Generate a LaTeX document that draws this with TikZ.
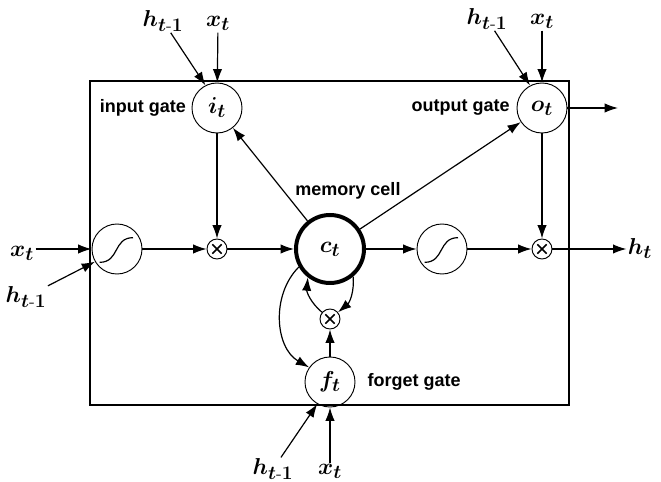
\documentclass[tikz,border=0pt]{standalone}
\usepackage{amsmath}
\usepackage{fontspec}
\setsansfont{Liberation Sans}
\usepackage{tikz}
\usetikzlibrary{positioning}
\usetikzlibrary{arrows.meta}

\begin{document}
\begin{tikzpicture}
  [
    x=0.75pt, y=0.75pt,
    >={Latex[length=10pt,width=7pt]},
    sym/.style={font=\fontsize{19}{22}\selectfont\boldmath, inner sep=1pt},
    gate/.style={sym, circle, draw=black, line width=0.7pt, minimum size=37.5pt, inner sep=0pt},
    cell/.style={sym, circle, draw=black, line width=3pt, minimum size=51pt, inner sep=0pt},
    sig/.style={circle, draw=black, line width=0.7pt, minimum size=37.5pt,
      path picture={\draw[line width=0.9pt, shift={(path picture bounding box.center)}]
        (-13pt,-10pt) .. controls (2pt,-10pt) and (-3pt,8.5pt) .. (12pt,8.5pt);}},
    mul/.style={circle, draw=black, line width=0.7pt, minimum size=15pt,
      path picture={\draw[line width=1.1pt, shift={(path picture bounding box.center)}]
        (-3.5pt,-3.5pt) -- (3.5pt,3.5pt) (-3.5pt,3.5pt) -- (3.5pt,-3.5pt);}},
    gatename/.style={font=\sffamily\bfseries\fontsize{13.5}{16}\selectfont, inner sep=0pt},
    ld/.style={line width=0.9pt,->}
  ]
  \useasboundingbox (0,0) rectangle (661,482);
  \draw [line width=1.2pt] (90,77) rectangle (569,401);

  \node (sA) at (117,233) [sig]  {};
  \node (mA) at (217,233) [mul]  {};
  \node (ct) at (330,233) [cell] {$c_t$};
  \node (sB) at (442,233) [sig]  {};
  \node (mB) at (542,233) [mul]  {};
  \node (it) at (217,374) [gate] {$i_t$};
  \node (ot) at (542,374) [gate] {$o_t$};
  \node (mC) at (330,163) [mul]  {};
  \node (ft) at (330,100) [gate] {$f_t$};

  \node (inName)  [left=4pt of it]  [gatename] {input gate};
  \node (outName) [left=5pt of ot]  [gatename] {output gate};
  \node (fgName)  [right=9pt of ft] [gatename] {forget gate};
  \node (memName) [above=10pt of ct, xshift=13.5pt] [gatename] {memory cell};

  \node (hI) at (163,455) [sym, anchor=base] {$h_{t\text{-}1}$};
  \node (xI) at (218,455) [sym, anchor=base] {$x_t$};
  \node (hO) at (487,457) [sym, anchor=base] {$h_{t\text{-}1}$};
  \node (xO) at (542,457) [sym, anchor=base] {$x_t$};
  \node (xL) at (22,225)  [sym, anchor=base] {$x_t$};
  \node (hL) at (26,179)  [sym, anchor=base] {$h_{t\text{-}1}$};
  \node (hF) at (273,7)   [sym, anchor=base] {$h_{t\text{-}1}$};
  \node (xF) at (330,7)   [sym, anchor=base] {$x_t$};
  \node (hT) at (640,227) [sym, anchor=base] {$h_t$};
  \coordinate (oOut) at (618,374);

  \draw [ld] (hI) -- (it.117);
  \draw [ld] (xI) -- (it);
  \draw [ld] (hO) -- (ot.118);
  \draw [ld] (xO) -- (ot);
  \draw [ld] (xL.east |- sA.west) -- (sA.west);
  \draw [ld] (hL) -- (sA.-150);
  \draw [ld] (hF) -- (ft.-120);
  \draw [ld] (xF) -- (ft);

  \draw [ld] (sA) -- (mA);
  \draw [ld] (it) -- (mA);
  \draw [ld] (mA) -- (ct);
  \draw [ld] (ct) -- (it);
  \draw [ld] (ct) -- (ot);
  \draw [ld] (ct) -- (sB);
  \draw [ld] (sB) -- (mB);
  \draw [ld] (ot) -- (mB);
  \draw [ld] (mB.east) -- (hT.west |- mB.east);
  \draw [ld] (ot) -- (oOut);

  \draw [ld] (ft) -- (mC);
  \draw [ld] (ct.-50) to[out=-85, in=40] (mC);   % memory back into the product
  \draw [ld] (mC) to[out=140, in=-95] (ct.-128);
  \draw [ld] (ct.-150) to[out=-135, in=150] (ft.145);
\end{tikzpicture}
\end{document}
